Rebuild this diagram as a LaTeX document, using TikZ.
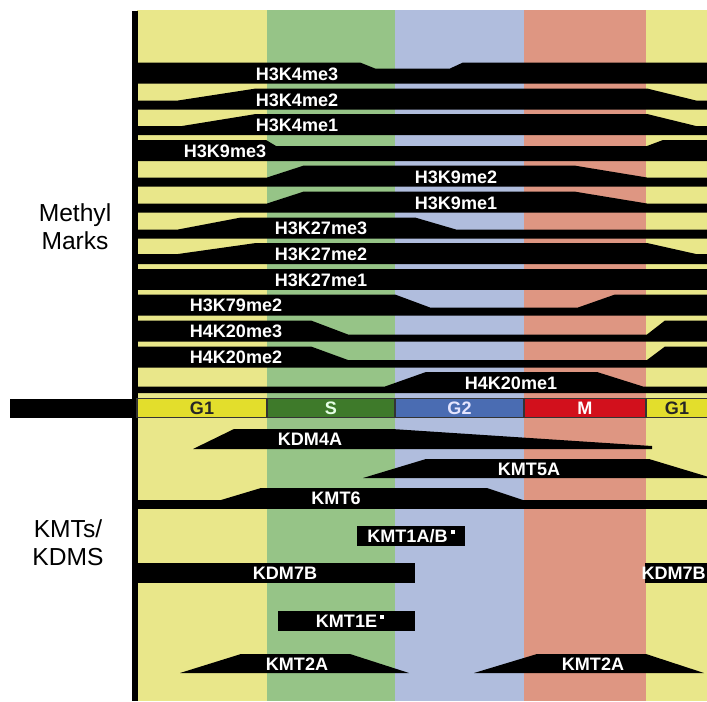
\documentclass[tikz,border=0pt]{standalone}
\usepackage{fontspec}
\setmainfont{Liberation Sans}
\definecolor{gonebg}{HTML}{E9E78A}
\definecolor{sphasebg}{HTML}{96C487}
\definecolor{gtwobg}{HTML}{B0BDDD}
\definecolor{mphasebg}{HTML}{DE9682}
\definecolor{gonecell}{HTML}{E3DE2C}
\definecolor{sphasecell}{HTML}{3E7A2A}
\definecolor{gtwocell}{HTML}{4A6CB2}
\definecolor{mphasecell}{HTML}{D2101C}
\newcommand{\smallsq}{\,\raisebox{0.9ex}{\rule{0.12cm}{0.12cm}}}

\begin{document}
\begin{tikzpicture}[x=0.03cm,y=-0.03cm,
    mark label/.style={text=white,font=\fontsize{15.4}{16}\selectfont\bfseries,inner sep=0pt},
    side label/.style={align=center,font=\fontsize{21}{24}\selectfont,inner sep=0pt}]
\path[use as bounding box,clip] (0,0) rectangle (707,701);
\fill[white] (0,0) rectangle (707,701);
% Phase columns
\foreach \xa/\xb/\col in {137/267/gonebg, 267/395/sphasebg, 395/524/gtwobg, 524/646/mphasebg, 646/707/gonebg} {
    \fill[\col] (\xa,10) rectangle (\xb,701);
}
% Axis
\fill (132,11) rectangle (138,701);
\fill (10,399) rectangle (137,418);

% Methyl mark bands
\fill (137,62.5) -- (360,62.5) -- (375,68.5) -- (450,68.5) -- (463,62.5) -- (707,62.5) -- (707,83.5) -- (137,83.5) -- cycle;
\fill (137,100.5) -- (178,100.5) -- (256,88.5) -- (647,88.5) -- (696,100.5) -- (707,100.5) -- (707,109.5) -- (137,109.5) -- cycle;
\fill (137,126) -- (182,126) -- (256,114) -- (647,114) -- (696,126) -- (707,126) -- (707,135) -- (137,135) -- cycle;
\fill (137,140) -- (266,140) -- (276,146) -- (647,146) -- (663,140) -- (707,140) -- (707,161) -- (137,161) -- cycle;
\fill (137,177.5) -- (267,177.5) -- (304,165.5) -- (574,165.5) -- (647,177.5) -- (707,177.5) -- (707,186.5) -- (137,186.5) -- cycle;
\fill (137,203.5) -- (267,203.5) -- (304,191.5) -- (574,191.5) -- (647,203.5) -- (707,203.5) -- (707,212.5) -- (137,212.5) -- cycle;
\fill (137,229.5) -- (178,229.5) -- (241,217.5) -- (415,217.5) -- (456,229.5) -- (707,229.5) -- (707,238.5) -- (137,238.5) -- cycle;
\fill (137,254) -- (178,254) -- (256,243) -- (647,243) -- (696,254) -- (707,254) -- (707,264) -- (137,264) -- cycle;
\fill (137,269) rectangle (707,290);
\fill (137,294.5) -- (395,294.5) -- (430,307.5) -- (578,307.5) -- (615,294.5) -- (707,294.5) -- (707,315.5) -- (137,315.5) -- cycle;
\fill (137,320.5) -- (311,320.5) -- (348,334.5) -- (647,334.5) -- (665,320.5) -- (707,320.5) -- (707,341.5) -- (137,341.5) -- cycle;
\fill (137,346.5) -- (311,346.5) -- (348,360) -- (647,360) -- (665,346.5) -- (707,346.5) -- (707,367.5) -- (137,367.5) -- cycle;
\fill (137,386.5) -- (385,386.5) -- (426,372) -- (597,372) -- (643,386.5) -- (707,386.5) -- (707,393) -- (137,393) -- cycle;

% Methyl mark labels
\foreach \name/\x/\y in {H3K4me3/297/74, H3K4me2/297/100, H3K4me1/297/125.5, H3K9me3/225/151,
    H3K9me2/456/177, H3K9me1/456/203, H3K27me3/321/228.5, H3K27me2/321/254,
    H3K27me1/321/280, H3K79me2/236/305.5, H4K20me3/236/331.5, H4K20me2/236/357, H4K20me1/511/383} {
    \node[mark label] (\name) at (\x,\y) {\name};
}

% Cell cycle bar
\foreach \xa/\xb/\xt/\col/\txt/\tcol [count=\i] in {137/267/202/gonecell/G1/black!85,
    267/395/331/sphasecell/S/white!90!green, 395/524/459.5/gtwocell/G2/white!90!blue,
    524/646/585/mphasecell/M/white, 646/720/677/gonecell/G1/black!85} {
    \filldraw[fill=\col,draw=black!80,line width=1.2pt] (\xa,398.5) rectangle (\xb,417.5);
    \node[mark label,text=\tcol] (cell\i) at (\xt,408) {\txt};
}

% Enzyme bands
\fill (193,449) -- (234,429) -- (392,429) -- (652,446) -- (652,449) -- cycle;
\fill (363,478) -- (426,459) -- (649,459) -- (712,478) -- cycle;
\fill (221,500) -- (261,488) -- (487,488) -- (523,500) -- cycle;
\fill (137,500) rectangle (707,509);
\fill (357,526) rectangle (465,546);
\fill (137,563) rectangle (415,583);
\fill (645,563) rectangle (707,583);
\fill (278,611) rectangle (415,631);
\fill (180,673) -- (241,654) -- (350,654) -- (409,673) -- cycle;
\fill (474,673) -- (537,654) -- (646,654) -- (704,673) -- cycle;

% Enzyme labels
\node[mark label] (kdmfoura) at (310,439) {KDM4A};
\node[mark label] (kmtfivea) at (529,469) {KMT5A};
\node[mark label] (kmtsix) at (336,498) {KMT6};
\node[mark label] (kmtonea) at (411,536) {KMT1A/B\smallsq};
\node[mark label] (kdmseven) at (285,573) {KDM7B};
\node[mark label,anchor=east] (kdmsevenb) at (706,573) {KDM7B};
\node[mark label] (kmtonee) at (350,621) {KMT1E\smallsq};
\node[mark label] (kmttwoa) at (297,664) {KMT2A};
\node[mark label] (kmttwob) at (593,664) {KMT2A};

% Side labels
\node[side label] (methyl) at (75,227) {Methyl\\Marks};
\node[side label] (kmts) at (68,543) {KMTs/\\KDMS};
\end{tikzpicture}
\end{document}
